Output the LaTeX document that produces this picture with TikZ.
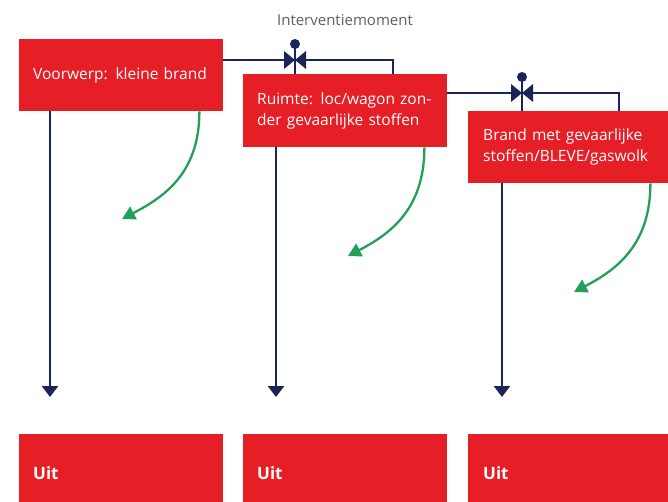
\documentclass[tikz,border=0pt]{standalone}
\usepackage{fontspec}
\setmainfont{Open Sans}
\usetikzlibrary{arrows.meta,positioning,calc}
\definecolor{ergred}{RGB}{230,30,38}
\definecolor{navy}{RGB}{26,36,88}
\definecolor{fasegreen}{RGB}{34,160,88}
\definecolor{labelgrey}{RGB}{95,95,95}

\begin{document}
\begin{tikzpicture}[x=1pt, y=-1pt,
    fase/.style={rectangle, fill=ergred, text=white, anchor=north west,
        inner xsep=14pt, inner ysep=0pt, align=left,
        font=\fontsize{15.5}{21}\selectfont},
    uit/.style={fase, text width=176pt, minimum height=78pt, font=\fontsize{17}{18}\selectfont\bfseries},
    lijn/.style={navy, line width=2.6pt},
    pijl/.style={lijn, -{Triangle[width=16pt,length=11pt]}},
    terug/.style={fasegreen, line width=2.3pt, -{Triangle[width=14pt,length=13pt]}}]

    \useasboundingbox (0,0) rectangle (668,502);

    % Fasen
    \node[fase, text width=176pt, minimum height=72pt] (b1) at (19,39) {Voorwerp: kleine brand};
    \node[fase, text width=176pt, minimum height=73pt] (b2) at (243,74) {Ruimte: loc/wagon zon-\\der gevaarlijke stoffen};
    \node[fase, text width=170pt, minimum height=72pt, inner xsep=15pt] (b3) at (468,111) {Brand met gevaarlijke\\stoffen/BLEVE/gaswolk};

    % Uit
    \node[uit] (u1) at (19,434) {Uit};
    \node[uit] (u2) at (243,434) {Uit};
    \node[uit, text width=170pt, inner xsep=15pt] (u3) at (468,434) {Uit};

    % Interventiemoment
    \node[text=labelgrey, font=\fontsize{15}{16}\selectfont] (lbl) at (345,20) {Interventiemoment};
    \coordinate (k1) at (295,60);
    \coordinate (h1) at (393,60);
    \coordinate (k2) at (522,93);
    \coordinate (h2) at (619,93);

    \draw[lijn] (k1 -| b1.east) -- (h1) -- (h1 |- b2.north);
    \draw[lijn] (k2 -| b2.east) -- (h2) -- (h2 |- b3.north);
    \foreach \k/\b in {k1/b2, k2/b3} {
        \draw[lijn] ($(\k)+(0,-15)$) -- (\k |- \b.north);
        \fill[navy] ($(\k)+(0,-16)$) circle (5pt);
        \fill[navy] (\k) -- ++(-11,-9) -- ++(0,18) -- cycle;
        \fill[navy] (\k) -- ++(11,-9) -- ++(0,18) -- cycle;
    }

    % Naar uit
    \draw[pijl, shorten >=37pt] ($(b1.south west)+(31,0)$) -- ($(u1.north west)+(31,0)$);
    \draw[pijl, shorten >=37pt] ($(b2.south west)+(33,0)$) -- ($(u2.north west)+(33,0)$);
    \draw[pijl, shorten >=37pt] ($(b3.south west)+(34,0)$) -- ($(u3.north west)+(34,0)$);

    % Terug
    \coordinate (g1) at (122,219);
    \coordinate (g2) at (348,256);
    \coordinate (g3) at (574,292);
    \draw[terug] ($(b1.south east)+(-24,0)$) .. controls +(0,62) and +(42,-22) .. (g1);
    \draw[terug] ($(b2.south east)+(-23,0)$) .. controls +(0,62) and +(42,-22) .. (g2);
    \draw[terug] ($(b3.south east)+(-18,0)$) .. controls +(0,62) and +(42,-22) .. (g3);
\end{tikzpicture}
\end{document}
